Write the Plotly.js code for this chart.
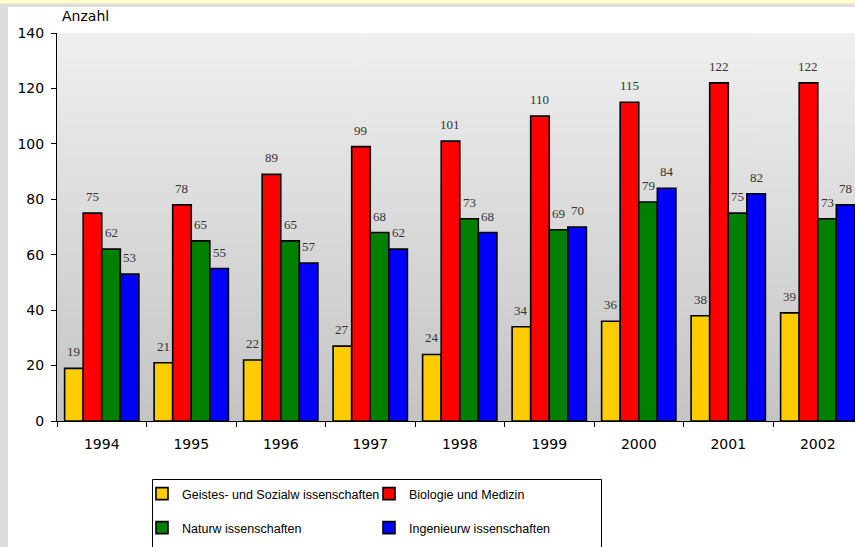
<!DOCTYPE html>
<html><head><meta charset="utf-8">
<script src="https://cdn.plot.ly/plotly-3.0.1.min.js"></script>
<style>html,body{margin:0;padding:0;background:#fff;}#chart{width:855px;height:547px;}</style>
</head><body><div id="chart"></div>
<script>
const years = ['1994','1995','1996','1997','1998','1999','2000','2001','2002'];
const geistes = [19,21,22,27,24,34,36,38,39];
const bio = [75,78,89,99,101,110,115,122,122];
const natur = [62,65,65,68,73,69,79,75,73];
const ingenieur = [53,55,57,62,68,70,84,82,78];
const seriesNames = ['Geistes- und Sozialw issenschaften','Biologie und Medizin','Naturw issenschaften','Ingenieurw issenschaften'];
const seriesColors = ['#FFCC00','#FF0000','#008000','#0000FF'];
const seriesData = [geistes, bio, natur, ingenieur];
const legendIds = ['legend','legend','legend2','legend2'];

// gradient background
const cv = document.createElement('canvas');
cv.width = 4; cv.height = 256;
const ctx = cv.getContext('2d');
const g = ctx.createLinearGradient(0,0,0,256);
g.addColorStop(0,'#f0f0f0');
g.addColorStop(1,'#c4c4c4');
ctx.fillStyle = g; ctx.fillRect(0,0,4,256);
const bgUrl = cv.toDataURL();

const W=855, H=547, L=57, T=33, B=126, R=0;
const pw=W-L-R, ph=H-T-B;
const px = x => (x-L)/pw;
const py = y => (H-B-y)/ph;

const BARGAP = 0.17;
const xRange = [-0.5, 8.416];
const catPx = pw/(xRange[1]-xRange[0]);
const barPx = catPx*(1-BARGAP)/seriesData.length;

const traces = seriesData.map((d,i)=>({
  type:'bar', x:years, y:d, name:seriesNames[i],
  marker:{color:seriesColors[i], line:{color:'#000', width:1.6}},
  legend:legendIds[i], showlegend:true
}));

const axisFont = 'DejaVu Sans, Liberation Sans, Arial, sans-serif';
const annotations = [];
seriesData.forEach((d,i)=>{
  d.forEach((v,j)=>{
    annotations.push({x:j, y:v, xref:'x', yref:'y', text:String(v), showarrow:false,
      xanchor:'center', yanchor:'bottom', yshift:7, xshift:(i-(seriesData.length-1)/2)*barPx,
      font:{family:'Liberation Serif, serif', size:13, color:'#333'}});
  });
});
annotations.push({text:'Anzahl', xref:'paper', yref:'paper', x:px(60), y:py(26), xanchor:'left', yanchor:'bottom',
    showarrow:false, font:{size:14, family:axisFont}});

const legendFont = {size:12.5, family:'Liberation Sans, Arial, sans-serif'};
const layout = {
  width:W, height:H,
  margin:{l:L, r:R, t:T, b:B, pad:0},
  paper_bgcolor:'#fff', plot_bgcolor:'rgba(0,0,0,0)',
  barmode:'group', bargap:BARGAP, bargroupgap:0,
  font:{family:'Liberation Sans, Arial, sans-serif', size:14, color:'#000'},
  xaxis:{type:'category', range:xRange, showline:true, linecolor:'#000', linewidth:1,
    ticks:'outside', tickson:'boundaries', ticklen:5, tickcolor:'#000', ticklabelstandoff:10,
    showgrid:false, zeroline:false, tickfont:{size:14, family:axisFont}},
  yaxis:{range:[0,140], dtick:20, showline:true, linecolor:'#000', linewidth:1,
    ticks:'outside', ticklen:5, tickcolor:'#000', showgrid:false, zeroline:false,
    ticklabelstandoff:4, tickfont:{size:14, family:axisFont}},
  images:[{source:bgUrl, xref:'paper', yref:'paper', x:0, y:1, sizex:1, sizey:1,
    sizing:'stretch', layer:'below', xanchor:'left', yanchor:'top'}],
  legend:{orientation:'h', x:px(142), y:py(479), xanchor:'left', yanchor:'top',
    entrywidth:182, entrywidthmode:'pixels', bgcolor:'rgba(0,0,0,0)', borderwidth:0,
    font:legendFont, itemwidth:30},
  legend2:{orientation:'h', x:px(142), y:py(513), xanchor:'left', yanchor:'top',
    entrywidth:182, entrywidthmode:'pixels', bgcolor:'rgba(0,0,0,0)', borderwidth:0,
    font:legendFont, itemwidth:30},
  shapes:[
    {type:'rect', xref:'paper', yref:'paper', x0:px(0), x1:px(8), y0:py(H), y1:py(0),
      fillcolor:'#dddddd', line:{width:0}, layer:'below'},
    {type:'rect', xref:'paper', yref:'paper', x0:px(0), x1:px(W), y0:py(7), y1:py(0),
      fillcolor:'#dddddd', line:{width:0}, layer:'below'},
    {type:'rect', xref:'paper', yref:'paper', x0:px(0), x1:px(W), y0:py(3.5), y1:py(0),
      fillcolor:'#ffffcc', line:{width:0}, layer:'below'},
    {type:'rect', xref:'paper', yref:'paper', x0:px(152.5), x1:px(601.5), y0:py(560), y1:py(479.5),
      fillcolor:'rgba(0,0,0,0)', line:{width:1, color:'#000'}, layer:'above'}
  ],
  annotations:annotations
};
Plotly.newPlot('chart', traces, layout, {displayModeBar:false, staticPlot:true});
</script></body></html>
